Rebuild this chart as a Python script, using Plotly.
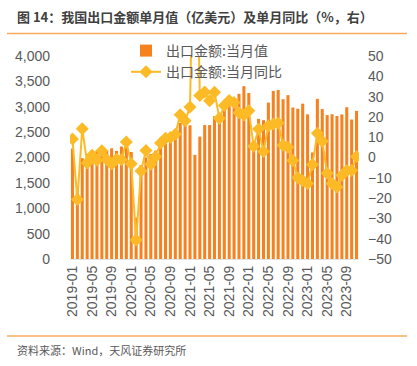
import plotly.graph_objects as go

months = [f"{y}-{m:02d}" for y in range(2019, 2024) for m in range(1, 13)][:59]

export_value = [
    2176, 1352, 1987, 1934, 2138, 2128, 2215, 2148, 2181, 2129, 2217, 2380,
    2109, 815, 1851, 2003, 2068, 2135, 2375, 2353, 2394, 2372, 2681, 2819,
    2635, 2052, 2412, 2639, 2639, 2814, 2820, 2943, 3057, 3003, 3255, 3405,
    3270, 2177, 2761, 2736, 3082, 3313, 3329, 3149, 3228, 2984, 2961, 3061,
    2850, 2100, 3156, 2954, 2835, 2853, 2818, 2849, 2991, 2748, 2919,
]

export_yoy = [
    9.1, -20.7, 14.2, -2.7, 1.1, -1.3, 3.3, -1.0, -3.2, -0.9, -1.1, 7.6,
    -3.1, -40.6, -6.6, 3.5, -3.3, 0.5, 7.2, 9.5, 9.9, 11.4, 21.1, 18.1,
    24.9, 154.9, 30.6, 32.3, 27.9, 32.2, 19.3, 25.6, 28.1, 27.1, 22.0, 20.9,
    23.0, 5.5, 14.0, 3.0, 15.5, 16.5, 17.0, 6.0, 5.0, -1.5, -10.0, -11.5,
    -12.8, -3.5, 12.0, 8.0, -7.8, -12.8, -14.5, -8.8, -6.5, -6.4, 0.5,
]

xtick_labels = months[::4]

BAR_COLOR = "#F5821F"
LINE_COLOR = "#FCBA26"
TEXT = "#595959"
FONT = "Liberation Sans, Noto Sans CJK SC, sans-serif"
CJK = "Noto Sans CJK SC, sans-serif"

W, H = 417, 366
L, R, T, B = 70, 58, 56, 107
PW, PH = W - L - R, H - T - B


def px_x(x):
    return (x - L) / PW


def px_y(y):
    return (H - B - y) / PH


fig = go.Figure()
fig.add_trace(go.Bar(
    x=months, y=export_value, name="出口金额:当月值",
    marker=dict(color=BAR_COLOR, line=dict(width=0)),
    yaxis="y",
))
fig.add_trace(go.Scatter(
    x=months, y=export_yoy, name="出口金额:当月同比",
    mode="lines+markers",
    line=dict(color=LINE_COLOR, width=2),
    marker=dict(symbol="diamond", size=10, color=LINE_COLOR),
    yaxis="y2",
))

fig.update_layout(
    width=W, height=H,
    margin=dict(l=L, r=R, t=T, b=B, autoexpand=False),
    paper_bgcolor="white", plot_bgcolor="white",
    bargap=0.38,
    showlegend=True,
    legend=dict(
        x=px_x(126), y=px_y(35), xanchor="left", yanchor="top",
        bgcolor="rgba(0,0,0,0)",
        font=dict(family=CJK, size=14, color=TEXT),
        tracegroupgap=0, itemwidth=30,
    ),
    xaxis=dict(
        type="category", range=[-0.5, len(months) - 0.5],
        tickmode="array", tickvals=xtick_labels, ticktext=xtick_labels,
        tickangle=-90,
        tickfont=dict(family=FONT, size=14, color=TEXT),
        showgrid=False, zeroline=False,
        showline=True, linecolor="#E3E3E3", linewidth=1,
        ticks="",
    ),
    yaxis=dict(
        range=[0, 4000], dtick=500, tickformat=",",
        tickfont=dict(family=FONT, size=14, color=TEXT),
        showgrid=False, zeroline=False, showline=False, ticks="",
        ticklabelstandoff=19,
    ),
    yaxis2=dict(
        range=[-50, 50], dtick=10, overlaying="y", side="right",
        tickfont=dict(family=FONT, size=14, color=TEXT),
        showgrid=False, zeroline=False, showline=False, ticks="",
        ticklabelstandoff=8,
    ),
    annotations=[
        dict(text="<b>图 14：我国出口金额单月值（亿美元）及单月同比（%，右）</b>",
             xref="paper", yref="paper", x=px_x(15), y=px_y(17),
             xanchor="left", yanchor="middle", showarrow=False,
             font=dict(family=CJK, size=13, color="#404040")),
        dict(text="资料来源：Wind，天风证券研究所",
             xref="paper", yref="paper", x=px_x(15), y=px_y(350),
             xanchor="left", yanchor="middle", showarrow=False,
             font=dict(family=CJK, size=11, color=TEXT)),
    ],
    shapes=[
        dict(type="line", xref="paper", yref="paper",
             x0=px_x(7), x1=px_x(407), y0=px_y(33.5), y1=px_y(33.5),
             line=dict(color="#F9A960", width=1.5)),
        dict(type="line", xref="paper", yref="paper",
             x0=px_x(7), x1=px_x(407), y0=px_y(336), y1=px_y(336),
             line=dict(color="#F9A960", width=1.5)),
    ],
)

fig.write_html(
    "out.html",
    config={"displayModeBar": False},
    post_script="document.body.style.margin='0';document.body.style.overflow='hidden';",
)
